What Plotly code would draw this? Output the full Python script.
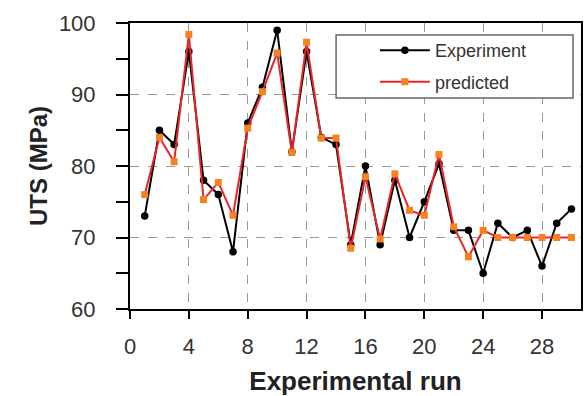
import plotly.graph_objects as go

runs = list(range(1, 31))
experiment = [73, 85, 83, 96, 78, 76, 68, 86, 91, 99,
              82, 96, 84, 83, 69, 80, 69, 78, 70, 75,
              80.3, 71, 71, 65, 72, 70, 71, 66, 72, 74]
predicted = [76, 84, 80.6, 98.4, 75.3, 77.7, 73.1, 85.3, 90.4, 95.8,
             81.9, 97.3, 83.9, 83.9, 68.5, 78.5, 69.8, 78.9, 73.8, 73.1,
             81.6, 71.5, 67.3, 71, 70, 70, 70, 70, 70, 70]
x_ticks = [0, 4, 8, 12, 16, 20, 24, 28]
y_ticks = [60, 70, 80, 90, 100]

fig = go.Figure()
fig.add_trace(go.Scatter(
    x=runs, y=experiment, name="Experiment", mode="lines+markers",
    line=dict(color="#000000", width=2),
    marker=dict(symbol="circle", size=7.5, color="#000000"),
    legendgroup="a"))
fig.add_trace(go.Scatter(
    x=runs, y=predicted, name="predicted", mode="lines+markers",
    line=dict(color="#E8262A", width=2),
    marker=dict(symbol="square", size=7, color="#F5821F"),
    legendgroup="b"))

fam = "Liberation Sans, Arial, sans-serif"
tick_font = dict(family=fam, size=22, color="#333333")

fig.update_layout(
    width=587, height=396,
    margin=dict(l=130, r=4, t=23, b=87),
    paper_bgcolor="white", plot_bgcolor="white",
    legend=dict(
        x=0.543, y=0.968, xanchor="left", yanchor="top",
        bgcolor="rgba(0,0,0,0)", borderwidth=0,
        font=dict(family=fam, size=18, color="#333333"),
        traceorder="grouped", tracegroupgap=5, itemwidth=50,
    ),
    shapes=[dict(type="rect", xref="paper", yref="paper",
                 x0=(337 - 130) / 453, x1=(575 - 130) / 453,
                 y0=(309 - 98) / 286, y1=(309 - 35) / 286,
                 line=dict(color="#666666", width=1.5),
                 fillcolor="white", layer="above")],
)

fig.update_xaxes(
    range=[0, 30.65], tickvals=x_ticks, ticktext=[str(v) for v in x_ticks],
    showline=True, linecolor="#000000", linewidth=2, mirror=True,
    ticks="outside", ticklen=8, tickwidth=2, tickcolor="#000000",
    showgrid=True, gridcolor="#999999", griddash="dash", gridwidth=1,
    zeroline=False, tickfont=tick_font, ticklabelstandoff=9,
    title=dict(text="<b>Experimental run</b>", font=dict(size=26, family=fam, color="#222222"), standoff=13),
)
fig.update_yaxes(
    range=[60, 100], tickvals=y_ticks, ticktext=[str(v) for v in y_ticks],
    showline=True, linecolor="#000000", linewidth=2, mirror=True,
    ticks="outside", ticklen=12, tickwidth=2, tickcolor="#000000",
    minor=dict(dtick=5, tick0=60, ticks="outside", ticklen=12, tickwidth=1.5, tickcolor="#000000", showgrid=False),
    showgrid=True, gridcolor="#999999", griddash="dash", gridwidth=1,
    zeroline=False, tickfont=tick_font, ticklabelstandoff=16,
    title=dict(text="<b>UTS (MPa)</b>", font=dict(size=24, family=fam, color="#222222"), standoff=4),
)

fig.write_html("out.html")
